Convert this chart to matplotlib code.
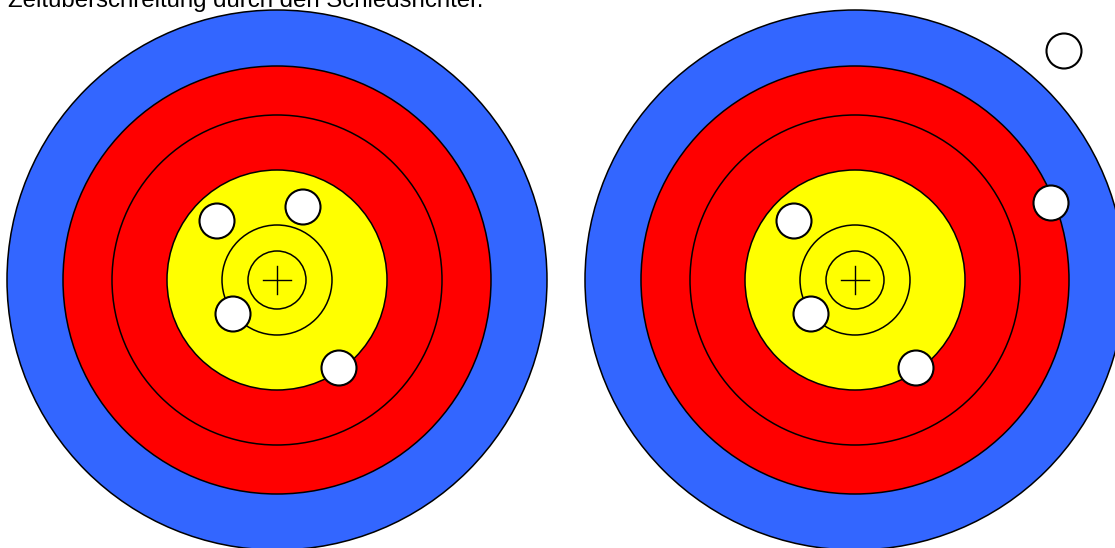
import matplotlib.pyplot as plt
from matplotlib.patches import Circle

# ring radii (px) from outside in, with fill colours
ring_radii = [270, 214, 165, 110, 55, 29]
ring_colors = ['#3366ff', '#ff0000', '#ff0000', '#ffff00', '#ffff00', '#ffff00']

# target centres
centers_x = [277, 855]
center_y = 280

# arrow hits per target (x, y)
hits_left_x = [217, 303, 233, 339]
hits_left_y = [221, 207, 314, 368]
hits_right_x = [794, 811, 916, 1051, 1064]
hits_right_y = [221, 314, 368, 203, 51]
hit_radius = 17.5

caption = 'Zeitüberschreitung durch den Schiedsrichter.'

plt.rcParams['font.family'] = ['Liberation Sans', 'DejaVu Sans']

fig = plt.figure(figsize=(11.15, 5.48), dpi=100)
ax = fig.add_axes([0, 0, 1, 1])
ax.set_xlim(0, 1115)
ax.set_ylim(548, 0)
ax.set_aspect('equal')
ax.axis('off')

for cx in centers_x:
    for r, c in zip(ring_radii, ring_colors):
        ax.add_patch(Circle((cx, center_y), r, facecolor=c, edgecolor='black', lw=1.1))
    ax.plot([cx - 14, cx + 14], [center_y, center_y], color='black', lw=1.0)
    ax.plot([cx, cx], [center_y - 14, center_y + 14], color='black', lw=1.0)

for xs, ys in [(hits_left_x, hits_left_y), (hits_right_x, hits_right_y)]:
    for x, y in zip(xs, ys):
        ax.add_patch(Circle((x, y), hit_radius, facecolor='white', edgecolor='black', lw=1.5, zorder=5))

# caption is cut off at the top edge, as in the original
ax.text(8, 7, caption, fontsize=17.3, color='black', ha='left', va='baseline')

plt.savefig('out.png', dpi=100)
